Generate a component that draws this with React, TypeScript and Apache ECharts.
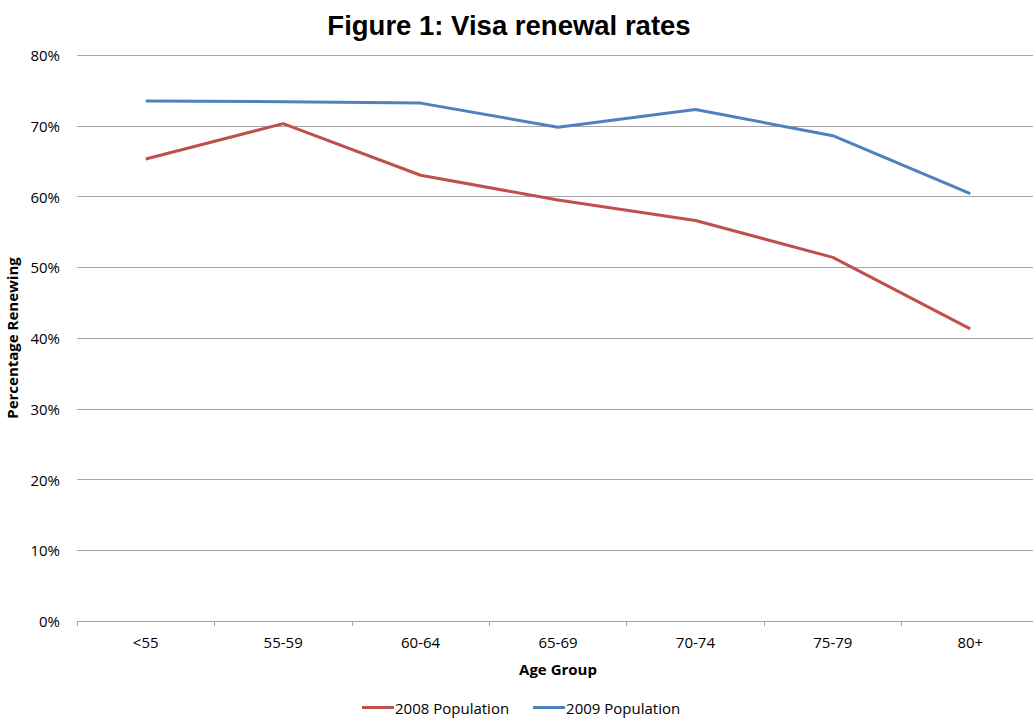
import React, { useEffect, useRef } from "react";
import * as echarts from "echarts";

const ageGroups = ["<55", "55-59", "60-64", "65-69", "70-74", "75-79", "80+"];
const population2008 = [65.3, 70.3, 63.0, 59.5, 56.6, 51.4, 41.3];
const population2009 = [73.5, 73.4, 73.2, 69.8, 72.3, 68.6, 60.4];
const seriesNames = ["2008 Population", "2009 Population"];
const seriesColors = ["#C0504D", "#4F81BD"];

const bodyFont = "'Open Sans', 'Noto Sans', sans-serif";

export default function App() {
  const ref = useRef<HTMLDivElement>(null);

  useEffect(() => {
    if (!ref.current) return;
    const chart = echarts.init(ref.current, undefined, { renderer: "svg" });
    chart.setOption({
      animation: false,
      backgroundColor: "#ffffff",
      title: {
        text: "Figure 1: Visa renewal rates",
        left: 504,
        top: 6,
        textAlign: "center",
        textStyle: {
          fontFamily: "'Liberation Sans', Arial, sans-serif",
          fontWeight: "bold",
          fontSize: 27.5,
          color: "#000000",
        },
      },
      legend: {
        data: seriesNames,
        left: 357,
        top: 695,
        itemWidth: 32,
        itemHeight: 3,
        itemGap: 24,
        icon: "rect",
        textStyle: {
          fontFamily: bodyFont,
          fontSize: 15,
          color: "#000000",
          padding: [0, 0, 0, -4],
        },
      },
      grid: {
        left: 77,
        right: 0,
        top: 55,
        bottom: 97,
        containLabel: false,
        outerBoundsMode: "none",
      },
      xAxis: {
        type: "category",
        data: ageGroups,
        boundaryGap: true,
        name: "Age Group",
        nameLocation: "middle",
        nameGap: 40,
        nameTextStyle: {
          fontFamily: bodyFont,
          fontWeight: "bold",
          fontSize: 15,
          color: "#000000",
        },
        axisLine: { show: true, lineStyle: { color: "#a6a6a6", width: 1 } },
        axisTick: {
          show: true,
          alignWithLabel: false,
          length: 5,
          lineStyle: { color: "#a6a6a6" },
        },
        axisLabel: {
          fontFamily: bodyFont,
          fontSize: 15,
          color: "#000000",
          margin: 13,
        },
      },
      yAxis: {
        type: "value",
        min: 0,
        max: 80,
        interval: 10,
        name: "Percentage Renewing",
        nameLocation: "middle",
        nameGap: 54,
        nameTextStyle: {
          fontFamily: bodyFont,
          fontWeight: "bold",
          fontSize: 15,
          color: "#000000",
        },
        axisLine: { show: false },
        axisTick: { show: false },
        axisLabel: {
          formatter: "{value}%",
          fontFamily: bodyFont,
          fontSize: 15,
          color: "#000000",
          margin: 17,
        },
        splitLine: { lineStyle: { color: "#a6a6a6", width: 1 } },
      },
      series: [
        {
          name: seriesNames[0],
          type: "line",
          data: population2008,
          symbol: "none",
          lineStyle: { color: seriesColors[0], width: 3 },
          itemStyle: { color: seriesColors[0] },
        },
        {
          name: seriesNames[1],
          type: "line",
          data: population2009,
          symbol: "none",
          lineStyle: { color: seriesColors[1], width: 3 },
          itemStyle: { color: seriesColors[1] },
        },
      ],
    });
    return () => chart.dispose();
  }, []);

  // The plot runs a few pixels past the right edge of the window, so the
  // chart box is slightly wider than the viewport and simply gets clipped.
  return (
    <div
      ref={ref}
      style={{
        position: "fixed",
        left: 0,
        top: 0,
        width: 1039,
        height: 718,
        background: "#ffffff",
      }}
    />
  );
}
